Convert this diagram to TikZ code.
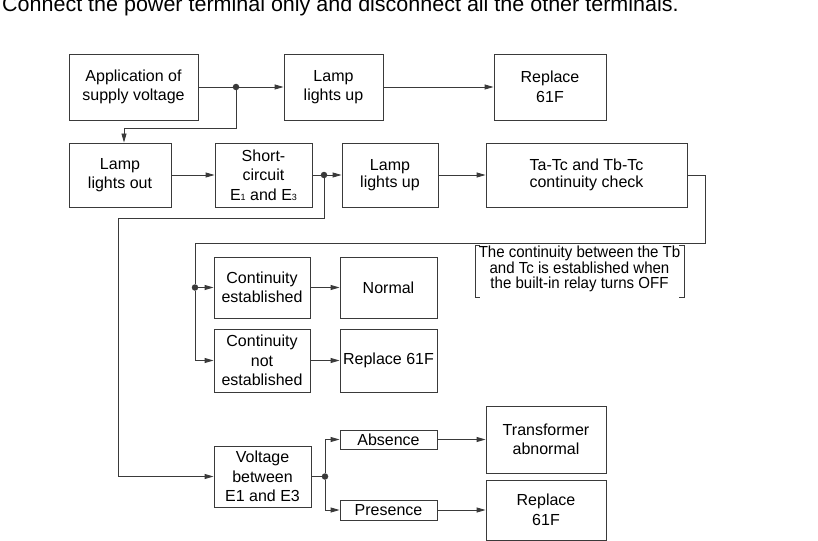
\documentclass[tikz,border=0pt]{standalone}
\usepackage{fontspec}
\setmainfont{Liberation Sans}
\newfontfamily\notefamily[FakeStretch=0.94]{Liberation Sans}
\usetikzlibrary{arrows.meta}
\definecolor{linec}{HTML}{3A3A3A}
\newcommand{\smalldigit}[1]{{\fontsize{9}{9}\selectfont #1}}
\begin{document}
\begin{tikzpicture}[x=1pt, y=-1pt,
  box/.style={draw=linec, line width=0.9pt, inner sep=0pt, align=center,
    font=\fontsize{16}{19.5}\selectfont},
  tightbox/.style={box, font=\fontsize{16}{17}\selectfont},
  flow/.style={draw=linec, line width=0.9pt, -{Triangle[length=9pt,width=5pt]}},
  wire/.style={draw=linec, line width=0.9pt},
  joint/.style={circle, fill=linec, inner sep=0pt, minimum size=6.5pt}]
\useasboundingbox (0,0) rectangle (818,540);

% heading
\node[anchor=base west, inner sep=0pt, font=\fontsize{21.5}{21.5}\selectfont]
  (title) at (2,12) {Connect the power terminal only and disconnect all the other terminals.};

% first row
\node[box, minimum width=129pt, minimum height=66pt] (app) at (133.5,87) {Application of\\supply voltage};
\node[box, minimum width=99pt, minimum height=66pt] (lampA) at (333.5,87) {Lamp\\lights up};
\node[box, minimum width=112pt, minimum height=66pt] (repA) at (550,87) {Replace\\61F};

% second row
\node[box, minimum width=102pt, minimum height=64pt] (out) at (120,175) {Lamp\\lights out};
\node[box, minimum width=97pt, minimum height=64pt] (short) at (263.5,175)
  {Short-\\circuit\\E\smalldigit{1} and E\smalldigit{3}};
\node[tightbox, minimum width=96pt, minimum height=64pt] (lampB) at (390,175) {Lamp\\lights up};
\node[tightbox, minimum width=201pt, minimum height=64pt] (check) at (586.5,175)
  {Ta-Tc and Tb-Tc\\continuity check};

% continuity results
\node[box, minimum width=96pt, minimum height=61pt] (est) at (262,287.5) {Continuity\\established};
\node[box, minimum width=97pt, minimum height=61pt] (normal) at (388.5,287.5) {Normal};
\node[box, minimum width=96pt, minimum height=63pt] (notest) at (262,360.5) {Continuity\\not\\established};
\node[box, minimum width=97pt, minimum height=63pt] (repB) at (388.5,360.5) {Replace 61F};

% relay note
\node[inner sep=0pt, align=center, font=\notefamily\fontsize{16}{14.6}\selectfont]
  (note) at (579.5,269) {The continuity between the Tb\\and Tc is established when\\the built-in relay turns OFF};
\draw[wire] (480,245) -- (475,245) -- (475,297) -- (480,297);
\draw[wire] (679,245) -- (684,245) -- (684,297) -- (679,297);

% voltage check
\node[box, minimum width=97pt, minimum height=61pt] (volt) at (262.5,476.5) {Voltage\\between\\E1 and E3};
\node[box, minimum width=97pt, minimum height=19pt] (absence) at (388.5,439.5) {Absence};
\node[box, minimum width=97pt, minimum height=20pt] (presence) at (388.5,510) {Presence};
\node[box, minimum width=120pt, minimum height=67pt] (trans) at (546,439.5) {Transformer\\abnormal};
\node[box, minimum width=120pt, minimum height=60pt] (repC) at (546,510) {Replace\\61F};

% branch points
\node[joint] (j1) at (236,87) {};
\node[joint] (j2) at (324,175) {};
\node[joint] (j3) at (195,287.5) {};
\node[joint] (j4) at (325,476.5) {};
\coordinate (k1) at (124,128);
\coordinate (k2) at (118,218);
\coordinate (k3) at (705,243);
\coordinate (k4) at (195,243);

% connectors
\draw[wire] (app.east) -- (j1);
\draw[flow] (j1) -- (lampA.west);
\draw[flow] (lampA.east) -- (repA.west);
\draw[wire] (j1) |- (k1);
\draw[flow] (k1) -- (k1 |- out.north);
\draw[flow] (out.east) -- (short.west);
\draw[wire] (short.east) -- (j2);
\draw[flow] (j2) -- (lampB.west);
\draw[flow] (lampB.east) -- (check.west);
\draw[wire] (j2) |- (k2);
\draw[flow] (k2) |- (volt.west);
\draw[wire] (check.east) -| (k3) -- (k4);
\draw[wire] (k4) -- (j3);
\draw[flow] (j3) -- (est.west);
\draw[flow] (j3) |- (notest.west);
\draw[flow] (est.east) -- (normal.west);
\draw[flow] (notest.east) -- (repB.west);
\draw[wire] (volt.east) -- (j4);
\draw[flow] (j4) |- (absence.west);
\draw[flow] (j4) |- (presence.west);
\draw[flow] (absence.east) -- (trans.west);
\draw[flow] (presence.east) -- (repC.west);
\end{tikzpicture}
\end{document}
